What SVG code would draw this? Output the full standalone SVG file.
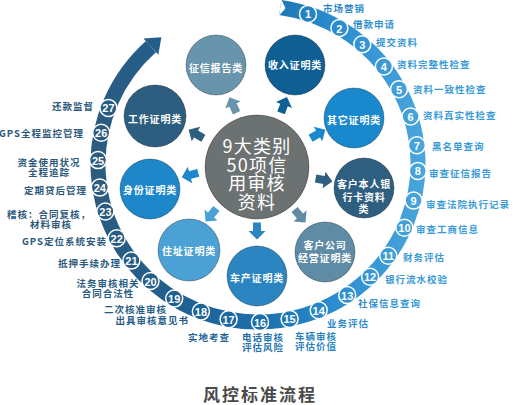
<svg xmlns="http://www.w3.org/2000/svg" xmlns:xlink="http://www.w3.org/1999/xlink" width="513" height="405" viewBox="0 0 513 405">
<defs>
<linearGradient id="band" gradientUnits="userSpaceOnUse" x1="95" y1="0" x2="425" y2="0">
<stop offset="0" stop-color="#2c5b7e"/>
<stop offset="0.25" stop-color="#1f6090"/>
<stop offset="0.5" stop-color="#1b6eab"/>
<stop offset="0.72" stop-color="#2a8ccf"/>
<stop offset="1" stop-color="#4aa6dc"/>
</linearGradient>
<linearGradient id="lblg" gradientUnits="userSpaceOnUse" x1="60" y1="0" x2="420" y2="0">
<stop offset="0" stop-color="#2b587a"/>
<stop offset="0.35" stop-color="#235f8e"/>
<stop offset="0.55" stop-color="#2470aa"/>
<stop offset="0.75" stop-color="#2a86c6"/>
<stop offset="1" stop-color="#3a9ad6"/>
</linearGradient>
<path id="ar" d="M-8.5,-4 H0 V-8.5 L8.5,0 L0,8.5 V4 H-8.5 Z"/>
</defs>
<style>
.lbl{font-family:"Noto Sans CJK SC","Noto Sans CJK JP",sans-serif;font-size:9.5px;font-weight:bold;letter-spacing:1px;fill:url(#lblg);dominant-baseline:central}
.nc{fill:url(#band);stroke:#fff;stroke-width:1.5}
.nt{font-family:"Liberation Sans",Arial,sans-serif;font-weight:bold;font-size:11px;fill:#fff;text-anchor:middle;dominant-baseline:central}
.node circle{stroke:rgba(0,0,0,0.3);stroke-width:1}
.node text{font-family:"Noto Sans CJK SC","Noto Sans CJK JP",sans-serif;font-size:10px;font-weight:bold;fill:#fff;text-anchor:middle;dominant-baseline:central;letter-spacing:0.8px}
.center text{font-size:18px;font-weight:normal;letter-spacing:1.2px}
.mid{text-anchor:middle}
.end{text-anchor:end}
</style>
<rect width="513" height="405" fill="#fff"/>

<g id="connectors">
<g id="flow-band">
<path d="M280.27,7.54 A160,158 0 1 1 150.94,46.59" fill="none" stroke="url(#band)" stroke-width="15"/>
<polygon points="281.4,-0.5 285.5,8.2 279.2,15.5" fill="#fff"/>
<polygon points="143.5,38.4 161.4,37.3 158.3,54.8" fill="url(#band)"/>
</g>
<g id="center-arrows">
<use xlink:href="#ar" transform="translate(233,105) rotate(-115)" fill="#6894ad"/>
<use xlink:href="#ar" transform="translate(284,105) rotate(-70)" fill="#105f94"/>
<use xlink:href="#ar" transform="translate(318,134) rotate(-30)" fill="#1a88cc"/>
<use xlink:href="#ar" transform="translate(324,180) rotate(10)" fill="#2e5e80"/>
<use xlink:href="#ar" transform="translate(300,216) rotate(50)" fill="#5e8ba5"/>
<use xlink:href="#ar" transform="translate(257,231) rotate(90)" fill="#2a85c0"/>
<use xlink:href="#ar" transform="translate(211,215) rotate(130)" fill="#4ba1d4"/>
<use xlink:href="#ar" transform="translate(190,175) rotate(165)" fill="#1d87ca"/>
<use xlink:href="#ar" transform="translate(196,134) rotate(-150)" fill="#2d5e80"/>
</g>
</g>

<g id="center" class="node center">
<circle cx="257" cy="167" r="52" fill="#6c7172" stroke="#4f5455"/>
<text x="257" y="145">9大类别</text>
<text x="257" y="163.5">50项信</text>
<text x="257" y="182">用审核</text>
<text x="257" y="200.5">资料</text>
</g>
<g id="n-zhengxin" class="node"><circle cx="216" cy="65" r="30" fill="#6894ad"/><text x="216" y="67">征信报告类</text></g>
<g id="n-shouru" class="node"><circle cx="295" cy="65" r="30" fill="#105f94"/><text x="295" y="64">收入证明类</text></g>
<g id="n-qita" class="node"><circle cx="354" cy="118" r="30" fill="#1a88cc"/><text x="354" y="119">其它证明类</text></g>
<g id="n-yinhangka" class="node"><circle cx="364" cy="188" r="30" fill="#2e5e80"/><text x="364" y="183">客户本人银</text><text x="364" y="196">行卡资料</text><text x="364" y="208">类</text></g>
<g id="n-gongsi" class="node"><circle cx="325" cy="252" r="30" fill="#5e8ba5"/><text x="325" y="244">客户公司</text><text x="325" y="257">经营证明类</text></g>
<g id="n-chechan" class="node"><circle cx="257" cy="276" r="30" fill="#2a85c0"/><text x="257" y="277">车产证明类</text></g>
<g id="n-zhuzhi" class="node"><circle cx="189" cy="250" r="31" fill="#4ba1d4"/><text x="189" y="250">住址证明类</text></g>
<g id="n-shenfen" class="node"><circle cx="150" cy="189" r="30" fill="#1d87ca"/><text x="150" y="189">身份证明类</text></g>
<g id="n-gongzuo" class="node"><circle cx="155" cy="116" r="31" fill="#2d5e80"/><text x="155" y="118">工作证明类</text></g>

<g id="step1"><circle class="nc" cx="308" cy="13.9" r="8.5"/><text class="nt" x="308" y="14.4">1</text><text class="lbl" x="323" y="8">市场营销</text></g>
<g id="step2"><circle class="nc" cx="339.4" cy="28" r="8.5"/><text class="nt" x="339.4" y="28.5">2</text><text class="lbl" x="353" y="24">借款申请</text></g>
<g id="step3"><circle class="nc" cx="362.3" cy="44.2" r="8.5"/><text class="nt" x="362.3" y="44.7">3</text><text class="lbl" x="376" y="42">提交资料</text></g>
<g id="step4"><circle class="nc" cx="383.9" cy="66.5" r="8.5"/><text class="nt" x="383.9" y="67">4</text><text class="lbl" x="397" y="64">资料完整性检查</text></g>
<g id="step5"><circle class="nc" cx="399" cy="89.3" r="8.5"/><text class="nt" x="399" y="89.8">5</text><text class="lbl" x="413" y="89">资料一致性检查</text></g>
<g id="step6"><circle class="nc" cx="410.6" cy="116.5" r="8.5"/><text class="nt" x="410.6" y="117">6</text><text class="lbl" x="423" y="115">资料真实性检查</text></g>
<g id="step7"><circle class="nc" cx="416.9" cy="145.3" r="8.5"/><text class="nt" x="416.9" y="145.8">7</text><text class="lbl" x="432" y="146">黑名单查询</text></g>
<g id="step8"><circle class="nc" cx="417.8" cy="170.9" r="8.5"/><text class="nt" x="417.8" y="171.4">8</text><text class="lbl" x="429" y="173">审查征信报告</text></g>
<g id="step9"><circle class="nc" cx="413.6" cy="200.6" r="8.5"/><text class="nt" x="413.6" y="201.1">9</text><text class="lbl" x="426" y="204">审查法院执行记录</text></g>
<g id="step10"><circle class="nc" cx="404.4" cy="227.8" r="8.5"/><text class="nt" x="404.4" y="228.3">10</text><text class="lbl" x="416" y="229">审查工商信息</text></g>
<g id="step11"><circle class="nc" cx="388.3" cy="255.7" r="8.5"/><text class="nt" x="388.3" y="256.2">11</text><text class="lbl" x="403" y="257">财务评估</text></g>
<g id="step12"><circle class="nc" cx="370.1" cy="276.7" r="8.5"/><text class="nt" x="370.1" y="277.2">12</text><text class="lbl" x="385" y="279">银行流水校验</text></g>
<g id="step13"><circle class="nc" cx="347.2" cy="295.1" r="8.5"/><text class="nt" x="347.2" y="295.6">13</text><text class="lbl" x="358" y="303">社保信息查询</text></g>
<g id="step14"><circle class="nc" cx="318.7" cy="310.2" r="8.5"/><text class="nt" x="318.7" y="310.7">14</text><text class="lbl" x="327" y="323">业务评估</text></g>
<g id="step15"><circle class="nc" cx="289.6" cy="318.9" r="8.5"/><text class="nt" x="289.6" y="319.4">15</text><text class="lbl" x="295" y="336">车辆审核</text><text class="lbl" x="295" y="346">评估价值</text></g>
<g id="step16"><circle class="nc" cx="260" cy="322" r="8.5"/><text class="nt" x="260" y="322.5">16</text><text class="lbl" x="242" y="337">电话审核</text><text class="lbl" x="242" y="347">评估风险</text></g>
<g id="step17"><circle class="nc" cx="228.6" cy="319.3" r="8.5"/><text class="nt" x="228.6" y="319.8">17</text><text class="lbl" x="188" y="337">实地考查</text></g>
<g id="step18"><circle class="nc" cx="200.9" cy="311.6" r="8.5"/><text class="nt" x="200.9" y="312.1">18</text><text class="lbl end" x="189" y="320">出具审核意见书</text></g>
<g id="step19"><circle class="nc" cx="174.2" cy="298.6" r="8.5"/><text class="nt" x="174.2" y="299.1">19</text><text class="lbl end" x="167" y="309">二次核准审核</text></g>
<g id="step20"><circle class="nc" cx="150.5" cy="281" r="8.5"/><text class="nt" x="150.5" y="281.5">20</text><text class="lbl mid" x="108" y="283">法务审核相关</text><text class="lbl mid" x="108" y="293">合同合法性</text></g>
<g id="step21"><circle class="nc" cx="131.4" cy="260.6" r="8.5"/><text class="nt" x="131.4" y="261.1">21</text><text class="lbl end" x="121" y="263">抵押手续办理</text></g>
<g id="step22"><circle class="nc" cx="116.7" cy="238.2" r="8.5"/><text class="nt" x="116.7" y="238.7">22</text><text class="lbl end" x="107" y="241">GPS定位系统安装</text></g>
<g id="step23"><circle class="nc" cx="105.4" cy="211.5" r="8.5"/><text class="nt" x="105.4" y="212">23</text><text class="lbl mid" x="49" y="214">稽核：合同复核，</text><text class="lbl mid" x="51" y="224">材料审核</text></g>
<g id="step24"><circle class="nc" cx="99.8" cy="187.6" r="8.5"/><text class="nt" x="99.8" y="188.1">24</text><text class="lbl end" x="87" y="190">定期贷后管理</text></g>
<g id="step25"><circle class="nc" cx="98" cy="160.1" r="8.5"/><text class="nt" x="98" y="160.6">25</text><text class="lbl mid" x="49" y="162">资金使用状况</text><text class="lbl mid" x="49" y="172">全程追踪</text></g>
<g id="step26"><circle class="nc" cx="101.2" cy="132.8" r="8.5"/><text class="nt" x="101.2" y="133.3">26</text><text class="lbl end" x="84" y="133">GPS全程监控管理</text></g>
<g id="step27"><circle class="nc" cx="108.4" cy="107.9" r="8.5"/><text class="nt" x="108.4" y="108.4">27</text><text class="lbl end" x="94" y="106">还款监督</text></g>

<text id="title" x="260" y="393" text-anchor="middle" dominant-baseline="central" font-family="Noto Sans CJK SC, Noto Sans CJK JP, sans-serif" font-size="17" font-weight="bold" letter-spacing="2" fill="#4a4a4a">风控标准流程</text>
</svg>
